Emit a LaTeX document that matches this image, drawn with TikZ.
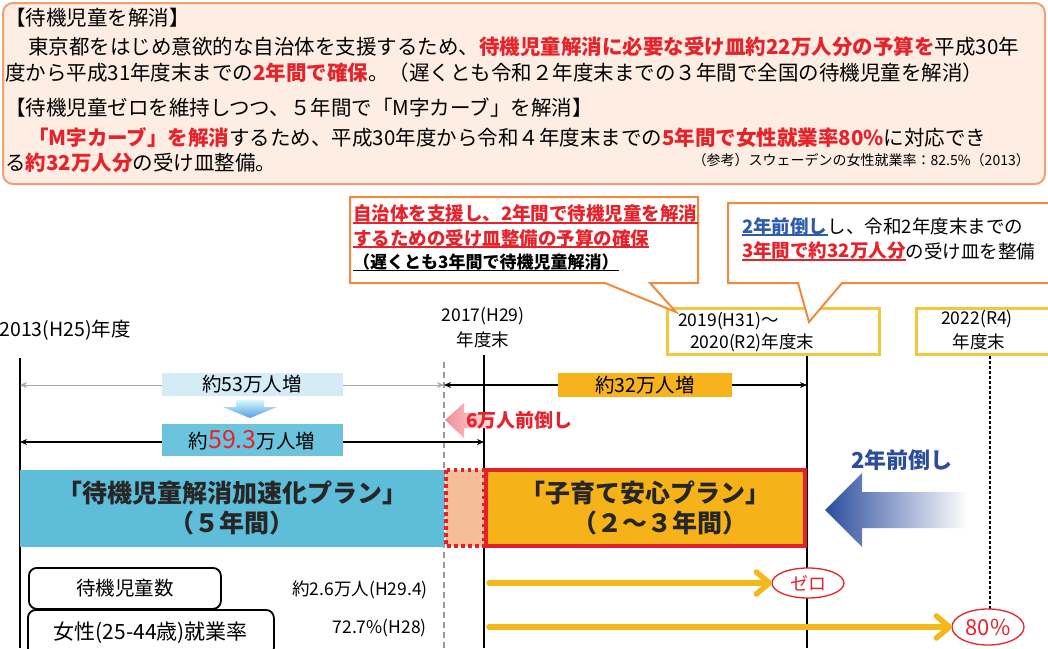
\documentclass[tikz,border=0pt]{standalone}
\usepackage{fontspec}
\setmainfont{Noto Sans CJK JP}
\usetikzlibrary{shapes.geometric,arrows.meta}
\newcommand{\fsz}[1]{\fontsize{#1pt}{#1pt}\selectfont}
\definecolor{jred}{HTML}{E6232B}
\definecolor{peachfill}{HTML}{FDEDE2}
\definecolor{peachborder}{HTML}{EBA274}
\definecolor{callborder}{HTML}{EE8B3E}
\definecolor{yearbox}{HTML}{F4C63D}
\definecolor{goldlab}{HTML}{F6B31B}
\definecolor{lblue}{HTML}{D4ECF5}
\definecolor{mblue}{HTML}{6CC3DD}
\definecolor{barblue}{HTML}{5EBDD8}
\definecolor{peach}{HTML}{F6BE98}
\definecolor{orangebox}{HTML}{F6B219}
\definecolor{barred}{HTML}{E5202A}
\definecolor{navy}{HTML}{2C4D9E}
\definecolor{bluetxt}{HTML}{2D5DAA}
\definecolor{grayarrow}{HTML}{A8A8A8}
\definecolor{goldarrow}{HTML}{F3B81A}
\definecolor{pinkarrow}{HTML}{F28E98}
\definecolor{pinklight}{HTML}{FCE0E2}
\begin{document}
\begin{tikzpicture}[x=1pt,y=-1pt,
  txt/.style={inner sep=0pt,anchor=west,font=\fsz{20.5}},
  ctxt/.style={inner sep=0pt,font=\fsz{18.5}\bfseries},
  yeartxt/.style={inner sep=0pt,font=\fsz{17.5}},
  labbox/.style={inner sep=0pt,font=\fsz{19.5},minimum width=181pt},
  vline/.style={line width=1.4pt,black},
  dimarrow/.style={line width=1.3pt,{Stealth[length=7pt,width=6pt]}-{Stealth[length=7pt,width=6pt]}},
  goldline/.style={line width=5.5pt,goldarrow,line cap=round,line join=round},
  rbox/.style={draw,line width=1.8pt,rounded corners=8pt,fill=white,anchor=north west,inner sep=0pt,font=\fsz{19.5}},
  oval/.style={ellipse,draw=jred,line width=1.3pt,fill=white,inner sep=0pt,text=jred}]
\useasboundingbox (0,0) rectangle (1048,648);
\fill[white] (0,0) rectangle (1048,648);

% ---------- top box ----------
\draw[draw=peachborder,fill=peachfill,line width=2pt,rounded corners=10pt] (3,3) rectangle (1045,184);
\node[txt] (t1) at (5,18) {【待機児童を解消】};
\node[txt] (t2) at (28,47) {東京都をはじめ意欲的な自治体を支援するため、\textcolor{jred}{\bfseries 待機児童解消に必要な受け皿約22万人分の予算を}平成30年};
\node[txt] (t3) at (5,73) {度から平成31年度末までの\textcolor{jred}{\bfseries 2年間で確保}。（遅くとも令和２年度末までの３年間で全国の待機児童を解消）};
\node[txt] (t4) at (5,108) {【待機児童ゼロを維持しつつ、５年間で「M字カーブ」を解消】};
\node[txt] (t5) at (28,138) {\textcolor{jred}{\bfseries 「M字カーブ」を解消}するため、平成30年度から令和４年度末までの\textcolor{jred}{\bfseries 5年間で女性就業率80\%}に対応でき};
\node[txt] (t6) at (5,163) {る\textcolor{jred}{\bfseries 約32万人分}の受け皿整備。};
\node[inner sep=0pt,anchor=east,font=\fsz{14}] (ref) at (1030,160) {（参考）スウェーデンの女性就業率：82.5\%（2013）};

% ---------- year boxes ----------
\node[draw=yearbox,line width=2.5pt,minimum width=212pt,minimum height=46pt,anchor=north west,inner sep=0pt] (y19) at (666,307) {};
\node[yeartxt,anchor=west] (y19a) at (678,321) {2019(H31)～};
\node[yeartxt,anchor=west] (y19b) at (690,343) {2020(R2)年度末};
\node[draw=yearbox,line width=2.5pt,minimum width=150pt,minimum height=46pt,anchor=north west,inner sep=0pt] (y22) at (915,307) {};
\node[yeartxt] (y22a) at (977,319) {2022(R4)};
\node[yeartxt] (y22b) at (979,342) {年度末};
\node[yeartxt] (y17a) at (483,316) {2017(H29)};
\node[yeartxt] (y17b) at (483,340) {年度末};
\node[yeartxt,anchor=east,font=\fsz{19.5}] (y13) at (131,330) {2013(H25)年度};

% ---------- callouts ----------
\draw[draw=callborder,fill=white,line width=2pt,line join=miter]
  (350,197) -- (698,197) -- (698,283) -- (650,283) -- (676,312) -- (605,283) -- (350,283) -- cycle;
\node[ctxt,anchor=west,text=jred] (c1) at (353,214) {自治体を支援し、2年間で待機児童を解消};
\node[ctxt,anchor=west,text=jred] (c2) at (353,238) {するための受け皿整備の予算の確保};
\node[ctxt,anchor=west,font=\fsz{17}\bfseries] (c3) at (353,262) {（遅くとも3年間で待機児童解消）};
\draw[jred,line width=1.3pt] (c1.south west) -- (c1.south east);
\draw[jred,line width=1.3pt] (c2.south west) -- (c2.south east);
\draw[black,line width=1.3pt] (c3.south west) -- (c3.south east);

\draw[draw=callborder,fill=white,line width=2pt,line join=miter]
  (1060,203) -- (728,203) -- (728,283) -- (798,283) -- (809,322) -- (842,283) -- (1060,283);
\node[ctxt,anchor=west,text=bluetxt] (r1a) at (742,226) {2年前倒し};
\node[inner sep=0pt,anchor=west,font=\fsz{18.5}] (r1b) at (r1a.east) {し、令和2年度末までの};
\node[ctxt,anchor=west,text=jred] (r2a) at (742,251) {3年間で約32万人分};
\node[inner sep=0pt,anchor=west,font=\fsz{18.5}] (r2b) at (r2a.east) {の受け皿を整備};
\draw[bluetxt,line width=1.3pt] (r1a.south west) -- (r1a.south east);
\draw[jred,line width=1.3pt] (r2a.south west) -- (r2a.south east);

% ---------- vertical lines ----------
\coordinate (v13t) at (20,358);  \coordinate (v13b) at (20,648);
\coordinate (vdt) at (444,362);  \coordinate (vdb) at (444,648);
\coordinate (v17t) at (484,355); \coordinate (v17b) at (484,648);
\coordinate (v20b) at (807,648);
\coordinate (v22b) at (990,611);
\draw[vline] (v13t) -- (v13b);
\draw[line width=1.4pt,color=gray!80,dash pattern=on 6pt off 4pt] (vdt) -- (vdb);
\draw[vline] (v17t) -- (v17b);
\draw[vline] (y19.south -| v20b) -- (v20b);
\draw[line width=1.4pt,black,dash pattern=on 3pt off 2pt] (y22.south -| v22b) -- (v22b);

% ---------- dimension rows ----------
\coordinate (r1l) at (20,385); \coordinate (r1m) at (444,385); \coordinate (r1r) at (807,385);
\coordinate (r2l) at (20,442); \coordinate (r2r) at (484,442);
\draw[dimarrow,grayarrow,line width=1pt] (r1l) -- (r1m);
\draw[dimarrow] (r1m) -- (r1r);
\draw[dimarrow] (r2l) -- (r2r);
\node[labbox,fill=lblue,minimum height=23pt] (l53) at (252,384) {約53万人増};
\node[labbox,fill=goldlab,minimum width=174pt,minimum height=24pt] (l32) at (645,385) {約32万人増};
\node[labbox,fill=mblue,minimum height=32pt] (l59) at (252,440) {約\textcolor{jred}{\fsz{25}59.3}万人増};
\shade[top color=lblue!70!cyan!40,bottom color=mblue!80!blue]
  (236,400) -- (264,400) -- (264,407) -- (277,407) -- (250,418) -- (223,407) -- (236,407) -- cycle;

% pink arrow
\shade[left color=pinkarrow,right color=pinklight]
  (445,420) -- (464,403) -- (464,413) -- (492,413) -- (492,428) -- (464,428) -- (464,438) -- cycle;
\node[inner sep=0pt,anchor=west,font=\fsz{19}\bfseries,text=jred] (mae6) at (466,420) {6万人前倒し};

% ---------- bars ----------
\fill[barblue] (20,470) rectangle (444,547);
\node[inner sep=0pt,align=center,font=\fsz{25}\bfseries,text=black!85] (plan1) at (232,508) {「待機児童解消加速化プラン」\\[5pt]（５年間）};
\draw[fill=peach,draw=barred,line width=3.5pt,dash pattern=on 3.5pt off 3.5pt] (446,470) rectangle (484,546);
\draw[fill=orangebox,draw=barred,line width=4pt] (486,470) rectangle (805,546);
\node[inner sep=0pt,align=center,font=\fsz{25}\bfseries,text=black!85] (plan2) at (645,508) {「子育て安心プラン」\\[5pt]\hspace{1.2em}（２～３年間）};

% blue big arrow
\shade[left color=navy,right color=white]
  (825,510) -- (862,473) -- (862,492) -- (968,492) -- (968,528) -- (862,528) -- (862,547) -- cycle;
\node[inner sep=0pt,font=\fsz{22}\bfseries,text=navy] (mae2) at (902,460) {2年前倒し};

% ---------- bottom rows ----------
\node[rbox,minimum width=192pt,minimum height=41pt] (bx1) at (28,567) {待機児童数};
\node[rbox,minimum width=246pt,minimum height=46pt,font=\fsz{21}] (bx2) at (27,609) {\raisebox{2pt}{女性(25-44歳)就業率}};
\node[inner sep=0pt,anchor=east,font=\fsz{17.5}] (val1) at (428,590) {約2.6万人(H29.4)};
\node[inner sep=0pt,anchor=east,font=\fsz{17.5}] (val2) at (427,628) {72.7\%(H28)};

\node[oval,minimum width=72pt,minimum height=30pt,font=\fsz{18}] (zero) at (808,583) {ゼロ};
\node[oval,minimum width=72pt,minimum height=36pt,font=\fsz{22}] (eighty) at (988,627) {80\%};
\coordinate (a1) at (489,583);
\coordinate (a2) at (489,627);
\coordinate (t1tip) at ([xshift=-2pt]zero.west);
\coordinate (t2tip) at ([xshift=-2pt]eighty.west);
\draw[goldline] (a1) -- (t1tip);
\draw[goldline] ([xshift=-13pt,yshift=11pt]t1tip) -- (t1tip) -- ([xshift=-13pt,yshift=-11pt]t1tip);
\draw[goldline] (a2) -- (t2tip);
\draw[goldline] ([xshift=-13pt,yshift=11pt]t2tip) -- (t2tip) -- ([xshift=-13pt,yshift=-11pt]t2tip);
\end{tikzpicture}
\end{document}
